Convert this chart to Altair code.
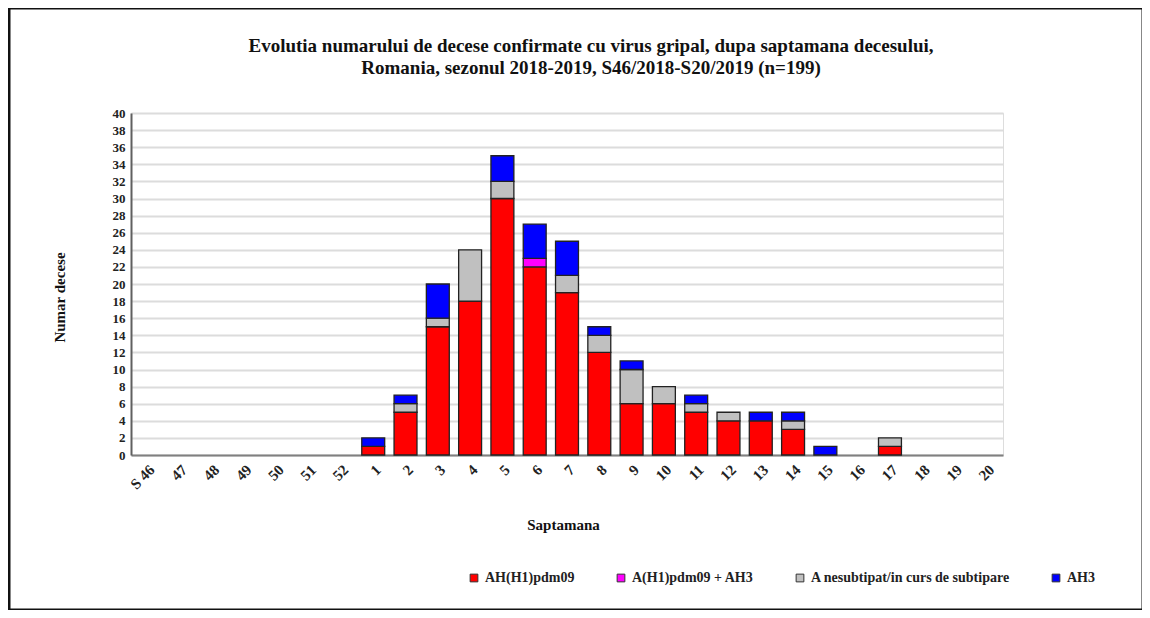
import altair as alt
import pandas as pd

weeks = ["S 46", "47", "48", "49", "50", "51", "52"] + [str(i) for i in range(1, 21)]
red = [0, 0, 0, 0, 0, 0, 0, 1, 5, 15, 18, 30, 22, 19, 12, 6, 6, 5, 4, 4, 3, 0, 0, 1, 0, 0, 0]
magenta = [0, 0, 0, 0, 0, 0, 0, 0, 0, 0, 0, 0, 1, 0, 0, 0, 0, 0, 0, 0, 0, 0, 0, 0, 0, 0, 0]
gray = [0, 0, 0, 0, 0, 0, 0, 0, 1, 1, 6, 2, 0, 2, 2, 4, 2, 1, 1, 0, 1, 0, 0, 1, 0, 0, 0]
blue = [0, 0, 0, 0, 0, 0, 0, 1, 1, 4, 0, 3, 4, 4, 1, 1, 0, 1, 0, 1, 1, 1, 0, 0, 0, 0, 0]

series_names = ["AH(H1)pdm09", "A(H1)pdm09 + AH3", "A nesubtipat/in curs de subtipare", "AH3"]
series_colors = ["#ff0000", "#ff00ff", "#c0c0c0", "#0000ff"]
series_values = [red, magenta, gray, blue]

rows = []
for k, (name, vals) in enumerate(zip(series_names, series_values)):
    for w, v in zip(weeks, vals):
        rows.append({"week": w, "series": name, "value": v, "order": k})
df = pd.DataFrame(rows)

FONT = "Liberation Serif"
W, H = 872, 342

bars = alt.Chart(df).transform_filter("datum.value > 0").mark_bar(
    stroke="#222222", strokeWidth=1.3
).encode(
    x=alt.X("week:N", sort=weeks,
            scale=alt.Scale(domain=weeks, paddingInner=0.29, paddingOuter=0.145),
            axis=alt.Axis(title="Saptamana", labelAngle=-45, labelFont=FONT, labelFontSize=15,
                          labelFontWeight="bold", labelColor="#222222", labelPadding=7,
                          ticks=False, domainColor="#808080", domainWidth=2, grid=False,
                          titleFont=FONT, titleFontSize=15, titleFontWeight="bold",
                          titleColor="#111111", titleY=62, titleX=432)),
    y=alt.Y("sum(value):Q", stack="zero",
            scale=alt.Scale(domain=[0, 40], nice=False),
            axis=alt.Axis(title="Numar decese", values=list(range(0, 41, 2)), labelFont=FONT,
                          labelFontSize=13, labelFontWeight="bold", labelColor="#222222",
                          labelPadding=6, ticks=False, domainColor="#606060", domainWidth=2,
                          gridColor="#dcdcdc", gridWidth=2,
                          titleFont=FONT, titleFontSize=15, titleFontWeight="bold",
                          titleColor="#111111", titleX=-64, titleY=184)),
    color=alt.Color("series:N", sort=series_names,
                    scale=alt.Scale(domain=series_names, range=series_colors),
                    legend=alt.Legend(title=None, orient="none", legendX=336, legendY=458,
                                      direction="horizontal", columns=4, columnPadding=39,
                                      symbolType="square", symbolSize=60, symbolStrokeColor="#333333",
                                      symbolStrokeWidth=1, labelFont=FONT, labelFontSize=14,
                                      labelFontWeight="bold", labelColor="#222222", labelLimit=300)),
    order=alt.Order("order:Q", sort="ascending"),
)

frame = alt.Chart(pd.DataFrame({"a": [0]})).mark_rect(
    fill=None, stroke="#111111", strokeWidth=3, clip=False
).encode(x=alt.value(-122), x2=alt.value(1012), y=alt.value(-105), y2=alt.value(497))

chart = alt.layer(bars, frame).properties(
    width=W, height=H,
    autosize=alt.AutoSizeParams(type="none"),
    padding={"left": 123, "top": 105, "right": 139, "bottom": 155},
    title=alt.TitleParams(
        ["Evolutia numarului  de decese confirmate cu virus gripal, dupa saptamana decesului,",
         "Romania, sezonul 2018-2019, S46/2018-S20/2019 (n=199)"],
        font=FONT, fontSize=19, fontWeight="bold", color="#111111", anchor="middle",
        frame="group", dx=24, offset=-71, lineHeight=22),
).configure_view(stroke=None).configure(background="white")

chart.save("out.html", embed_options={"renderer": "svg", "actions": False})
